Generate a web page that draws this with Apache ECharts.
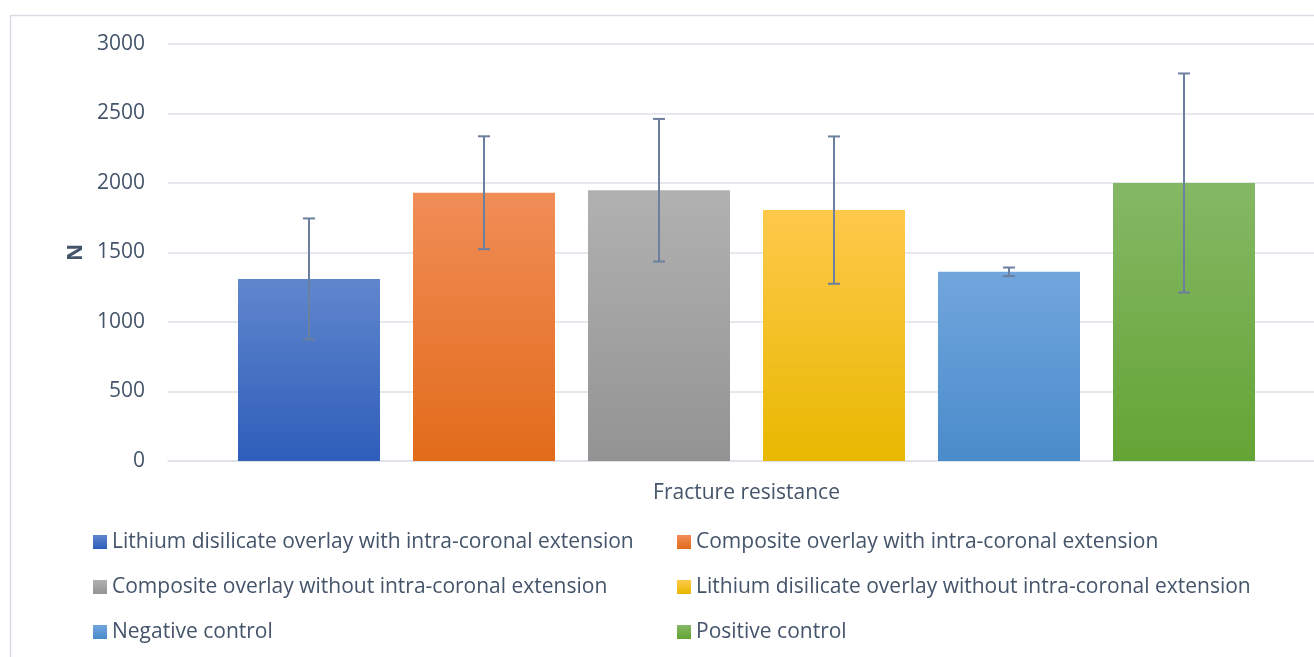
<!DOCTYPE html>
<html>
<head>
<meta charset="utf-8">
<script src="https://cdn.jsdelivr.net/npm/echarts@6/dist/echarts.min.js"></script>
<style>
  html, body { margin: 0; padding: 0; background: #fff; overflow: hidden; }
  #chart { width: 1340px; height: 657px; }
</style>
</head>
<body>
<div id="chart"></div>
<script>
// data
const categories = ["Fracture resistance"];
const seriesNames = [
  "Lithium disilicate overlay with intra-coronal extension",
  "Composite overlay with intra-coronal extension",
  "Composite overlay without intra-coronal extension",
  "Lithium disilicate overlay without intra-coronal extension",
  "Negative control",
  "Positive control"
];
const means = [1310, 1930, 1948, 1805, 1361, 2000];
const sds = [435, 406, 513, 530, 31, 788];
const yMin = 0, yMax = 3000, yStep = 500;

// top/bottom colours of each bar gradient
const topColors = ["#6086cd", "#f08d57", "#b1b1b1", "#fec94b", "#71a6dd", "#85b865"];
const bottomColors = ["#2e5eba", "#e26b1a", "#939393", "#e8b800", "#4a8bcb", "#64a434"];

const textColor = "#44546a";
const gridColor = "#dde1e7";
const errColor = "#6b7fa0";
const font = "Open Sans";
const fs = 21;

const barW = 142;
const barGapPx = 33;

let series = [];
for (let i = 0; i < seriesNames.length; i++) {
  series.push({
    name: seriesNames[i],
    type: "bar",
    barWidth: barW,
    barGap: (barGapPx / barW * 100).toFixed(2) + "%",
    itemStyle: {
      color: new echarts.graphic.LinearGradient(0, 0, 0, 1, [
        { offset: 0, color: topColors[i] },
        { offset: 1, color: bottomColors[i] }
      ])
    },
    data: [means[i]]
  });
}

// error bars
let errData = [];
for (let i = 0; i < means.length; i++) {
  errData.push([i, means[i] - sds[i], means[i] + sds[i]]);
}
series.push({
  type: "custom",
  name: "err",
  z: 10,
  data: errData,
  encode: { y: [1, 2] },
  renderItem: function(params, api) {
    const idx = api.value(0);
    const n = seriesNames.length;
    const center = api.coord([0, 0])[0];
    const x = center + (idx - (n - 1) / 2) * (barW + barGapPx);
    const lo = api.coord([0, api.value(1)])[1];
    const hi = api.coord([0, api.value(2)])[1];
    const cap = 6;
    const style = { stroke: errColor, lineWidth: 2 };
    return {
      type: "group",
      children: [
        { type: "line", shape: { x1: x, y1: hi, x2: x, y2: lo }, style: style },
        { type: "line", shape: { x1: x - cap, y1: hi, x2: x + cap, y2: hi }, style: style },
        { type: "line", shape: { x1: x - cap, y1: lo, x2: x + cap, y2: lo }, style: style }
      ]
    };
  }
});

const legendText = { color: textColor, fontFamily: font, fontSize: fs, lineHeight: 24 };

let option = {
  animation: false,
  graphic: [{
    type: "rect",
    shape: { x: 10.5, y: 15.5, width: 1400, height: 700 },
    style: { fill: "none", stroke: "#d9dde3", lineWidth: 1.5 }
  }],
  legend: [
    {
      data: [seriesNames[0], seriesNames[2], seriesNames[4]],
      orient: "vertical",
      left: 93, top: 530, padding: 0,
      itemWidth: 14, itemHeight: 14, itemGap: 21,
      icon: "rect",
      textStyle: legendText
    },
    {
      data: [seriesNames[1], seriesNames[3], seriesNames[5]],
      orient: "vertical",
      left: 677, top: 530, padding: 0,
      itemWidth: 14, itemHeight: 14, itemGap: 21,
      icon: "rect",
      textStyle: legendText
    }
  ],
  grid: { left: 168, top: 44, width: 1157, height: 417 },
  xAxis: {
    type: "category",
    data: categories,
    axisTick: { show: false },
    axisLine: { lineStyle: { color: gridColor, width: 1.5 } },
    axisLabel: { color: textColor, fontFamily: font, fontSize: fs, margin: 22 }
  },
  yAxis: {
    type: "value",
    min: yMin, max: yMax, interval: yStep,
    name: "N",
    nameLocation: "middle",
    nameGap: 81,
    nameTextStyle: { color: textColor, fontFamily: font, fontSize: fs, fontWeight: "bold" },
    axisLine: { show: false },
    axisTick: { show: false },
    axisLabel: {
      color: textColor, fontFamily: font, fontSize: fs, margin: 23,
      formatter: function(v) { return String(v); }
    },
    splitLine: { lineStyle: { color: gridColor, width: 1.5 } }
  },
  series: series
};

const chart = echarts.init(document.getElementById("chart"));
chart.setOption(option);
</script>
</body>
</html>
